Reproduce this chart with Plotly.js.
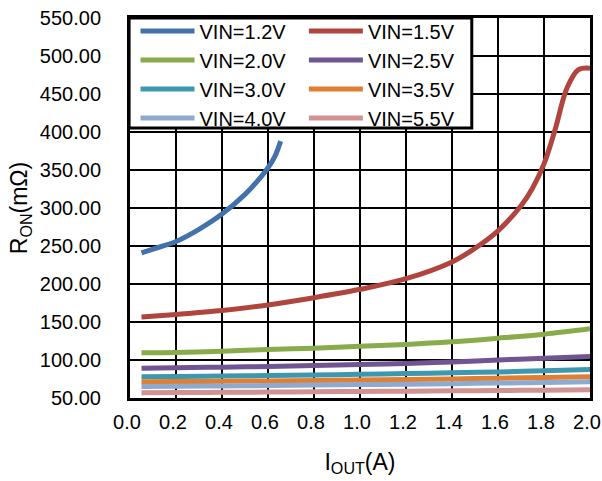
<!DOCTYPE html>
<html>
<head>
<meta charset="utf-8">
<script src="https://cdn.plot.ly/plotly-3.0.1.min.js"></script>
<style>
  html, body { margin: 0; padding: 0; background: #fff; }
  #chart { width: 602px; height: 481px; }
</style>
</head>
<body>
<div id="chart"></div>
<script>
// Output current (A) sample points
const ioutLow = [0.05, 0.2, 0.4, 0.6, 0.8, 1.0, 1.2, 1.4, 1.6, 1.8, 2.0];
const iout12 = [0.05, 0.1, 0.2, 0.3, 0.4, 0.5, 0.55, 0.6, 0.63, 0.655];
const iout15 = [0.05, 0.2, 0.4, 0.6, 0.8, 1.0, 1.2, 1.4, 1.5, 1.6, 1.7, 1.75, 1.8, 1.85, 1.9, 1.95, 2.0];

// On-resistance (mOhm) per input voltage
const ron12 = [241, 246, 256, 272, 292, 318, 334, 353, 368, 388];
const ron15 = [156.5, 160, 165, 172.5, 182, 193, 207, 229, 247, 270, 303, 326, 358, 405, 458, 482, 484];
const ron20 = [109.5, 110, 111.5, 113.8, 115.5, 118, 120.5, 124, 128.7, 134, 141];
const ron25 = [89.2, 89.8, 90.6, 91.5, 92.7, 94, 95.5, 97.5, 100, 102.3, 104.6];
const ron30 = [78, 78.3, 78.8, 79.5, 80.3, 81.2, 82.2, 83.2, 84.3, 85.8, 87.5];
const ron35 = [71.3, 71.6, 72, 72.5, 73, 73.6, 74.3, 75.1, 76, 77, 78];
const ron40 = [65.2, 65.5, 65.9, 66.4, 67, 67.6, 68.2, 68.9, 69.6, 70.4, 71.3];
const ron55 = [57.0, 57.2, 57.5, 57.8, 58.2, 58.6, 59, 59.4, 59.9, 60.3, 60.8];

// Axis tick positions
const xTicks = [0, 0.2, 0.4, 0.6, 0.8, 1.0, 1.2, 1.4, 1.6, 1.8, 2.0];
const yTicks = [50, 100, 150, 200, 250, 300, 350, 400, 450, 500, 550];

const seriesNames = ['VIN=1.2V', 'VIN=1.5V', 'VIN=2.0V', 'VIN=2.5V',
                     'VIN=3.0V', 'VIN=3.5V', 'VIN=4.0V', 'VIN=5.5V'];
const seriesX = [iout12, iout15, ioutLow, ioutLow, ioutLow, ioutLow, ioutLow, ioutLow];
const seriesY = [ron12, ron15, ron20, ron25, ron30, ron35, ron40, ron55];
const seriesColors = ['#4271ab', '#b0443f', '#8aab4a', '#6f5592',
                      '#3d97ae', '#e07f32', '#8eaad0', '#d29292'];
// left legend column holds the 1st, 3rd, 5th, 7th entries
const legendIds = ['legend', 'legend2', 'legend', 'legend2',
                   'legend', 'legend2', 'legend', 'legend2'];

const traces = seriesNames.map((name, i) => ({
  type: 'scatter',
  mode: 'lines',
  name: name,
  x: seriesX[i],
  y: seriesY[i],
  legend: legendIds[i],
  line: { color: seriesColors[i], width: 5, shape: 'spline', smoothing: 1 },
  hoverinfo: 'skip'
}));

const font = { family: 'Liberation Sans, Arial, sans-serif', color: '#000' };

const legendStyle = {
  bgcolor: 'rgba(0,0,0,0)',
  borderwidth: 0,
  font: Object.assign({ size: 20 }, font),
  yanchor: 'top',
  xanchor: 'left',
  y: 1.017,
  tracegroupgap: 0,
  itemwidth: 54
};

const layout = {
  width: 602,
  height: 481,
  margin: { l: 130, r: 12, t: 18, b: 83 },
  paper_bgcolor: '#fff',
  plot_bgcolor: '#fff',
  font: font,
  showlegend: true,
  legend: Object.assign({}, legendStyle, { x: 0.012 }),
  legend2: Object.assign({}, legendStyle, { x: 0.378 }),
  xaxis: {
    range: [0, 2],
    tickmode: 'array',
    tickvals: xTicks,
    tickformat: '.1f',
    showgrid: true,
    gridcolor: '#000',
    gridwidth: 2,
    zeroline: false,
    showline: true,
    linecolor: '#000',
    linewidth: 3,
    mirror: true,
    ticks: '',
    ticklabelstandoff: 4,
    ticklabelshift: -3,
    ticklabeloverflow: 'allow',
    tickfont: Object.assign({ size: 20 }, font),
    title: { text: 'I<sub>OUT</sub>(A)', font: Object.assign({ size: 23 }, font), standoff: 22 }
  },
  yaxis: {
    range: [50, 550],
    tickmode: 'array',
    tickvals: yTicks,
    tickformat: '.2f',
    showgrid: true,
    gridcolor: '#000',
    gridwidth: 2,
    zeroline: false,
    showline: true,
    linecolor: '#000',
    linewidth: 3,
    mirror: true,
    ticks: '',
    ticklabelstandoff: 22,
    tickfont: Object.assign({ size: 20 }, font),
    title: { text: 'R<sub>ON</sub>(mΩ)', font: Object.assign({ size: 23 }, font), standoff: 6 }
  },
  shapes: [{
    type: 'rect',
    xref: 'paper', yref: 'paper',
    x0: -0.002, x1: 0.743, y0: 0.7105, y1: 1.0,
    fillcolor: '#fff',
    line: { color: '#000', width: 3 },
    layer: 'above'
  }]
};

Plotly.newPlot('chart', traces, layout, { staticPlot: true, displayModeBar: false });
</script>
</body>
</html>
